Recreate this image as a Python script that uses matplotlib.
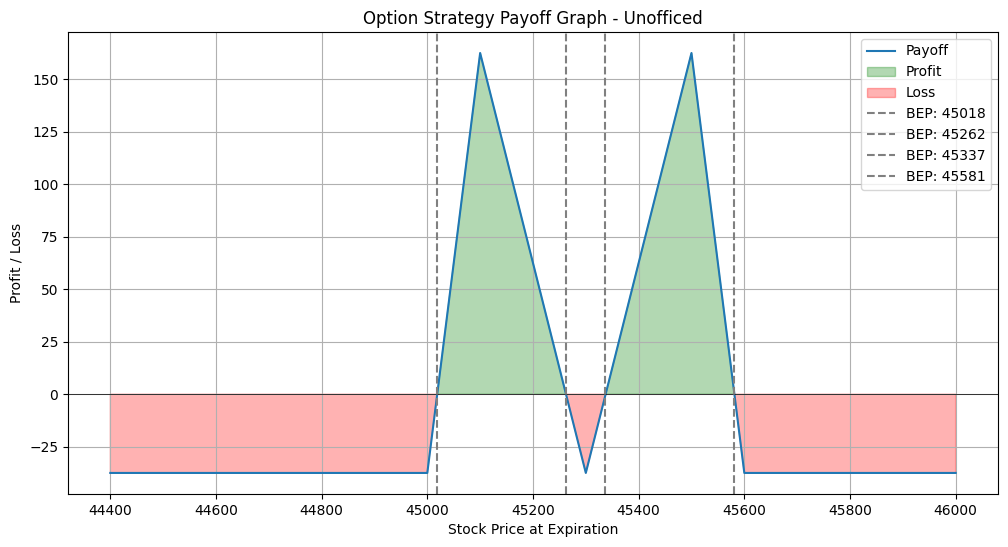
import numpy as np
import matplotlib
matplotlib.use("Agg")
import matplotlib.pyplot as plt

prices = [44400, 45000, 45100, 45300, 45500, 45600, 46000]
payoff = [-37.5, -37.5, 162.5, -37.5, 162.5, -37.5, -37.5]
beps = [45018, 45262, 45337, 45581]

x = np.array(prices, dtype=float)
y = np.array(payoff, dtype=float)

fig, ax = plt.subplots(figsize=(10.08, 5.47), dpi=100)
fig.subplots_adjust(left=0.0675, right=0.990, top=0.9415, bottom=0.097)

ax.plot(x, y, label="Payoff", color="#1f77b4")
ax.fill_between(x, y, 0, where=(y >= 0), interpolate=True, color="green", alpha=0.3, label="Profit")
ax.fill_between(x, y, 0, where=(y < 0), interpolate=True, color="red", alpha=0.3, label="Loss")
ax.axhline(0, color="black", linewidth=0.5)
for b in beps:
    ax.axvline(b, color="gray", linestyle="--", label=f"BEP: {b}")

ax.set_title("Option Strategy Payoff Graph - Unofficed")
ax.set_xlabel("Stock Price at Expiration")
ax.set_ylabel("Profit / Loss")
ax.grid(True)
ax.legend(loc="upper right")

fig.savefig("out.png", dpi=100)
